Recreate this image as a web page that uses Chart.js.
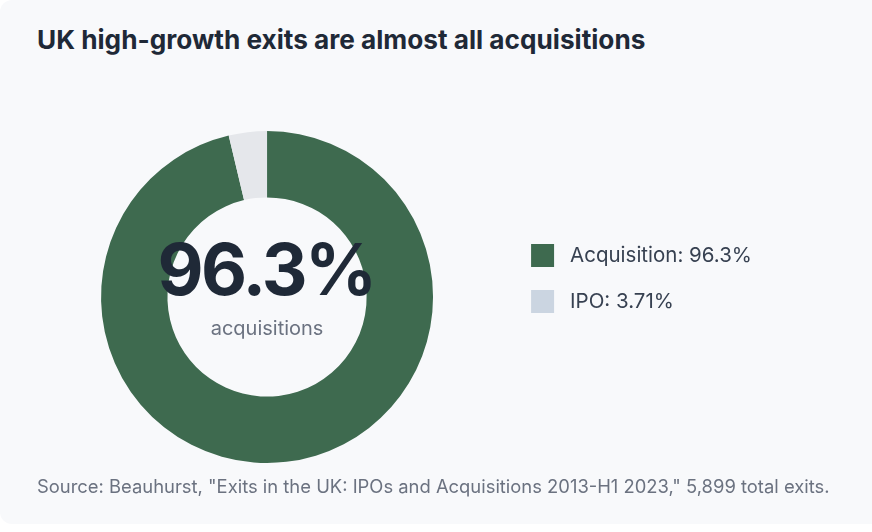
<!DOCTYPE html>
<html>
<head>
<meta charset="utf-8">
<script src="https://cdn.jsdelivr.net/npm/chart.js@4"></script>
<style>
  html, body { margin: 0; padding: 0; background: #ffffff; }
  body { width: 872px; height: 532px; position: relative; overflow: hidden; font-family: Inter, "Noto Sans", sans-serif; }
  .card { position: absolute; left: 0; top: 0; width: 900px; height: 524px; background: #f8f9fb; border-radius: 12px; }
  h1 { position: absolute; left: 37px; top: 24px; margin: 0; font-size: 26.2px; line-height: 32px; font-weight: 700; color: #1f2937; white-space: nowrap; }
  .source { position: absolute; left: 37px; top: 475px; margin: 0; font-size: 18.4px; line-height: 22px; color: #6b7280; white-space: nowrap; }
  .wrap { position: absolute; left: 0; top: 0; width: 872px; height: 532px; }
</style>
</head>
<body>
<div class="card"></div>
<h1>UK high-growth exits are almost all acquisitions</h1>
<div class="wrap"><canvas id="exits"></canvas></div>
<p class="source">Source: Beauhurst, "Exits in the UK: IPOs and Acquisitions 2013-H1 2023," 5,899 total exits.</p>
<script>
// exit routes, share of all exits (%)
const categories = ["Acquisition", "IPO"];
const shares = [96.29, 3.71];
const shareLabels = ["96.3%", "3.71%"];
const sliceColors = ["#3e6a4f", "#e5e7eb"];
const legendColors = ["#3e6a4f", "#cbd5e1"];
const centerValue = "96.3%";
const centerCaption = "acquisitions";

const centerText = {
  id: "centerText",
  afterDatasetsDraw(chart) {
    const arc = chart.getDatasetMeta(0).data[0];
    if (!arc) return;
    const { ctx } = chart;
    ctx.save();
    ctx.textAlign = "center";
    ctx.textBaseline = "alphabetic";
    ctx.fillStyle = "#1f2937";
    ctx.font = "700 71px Inter";
    ctx.letterSpacing = "-2.6px";
    ctx.fillText(centerValue, arc.x - 1, arc.y - 2);
    ctx.letterSpacing = "0px";
    ctx.fillStyle = "#6b7280";
    ctx.font = "400 20px Inter";
    ctx.fillText(centerCaption, arc.x, arc.y + 38);
    ctx.restore();
  }
};

new Chart(document.getElementById("exits"), {
  type: "doughnut",
  data: {
    labels: categories,
    datasets: [{
      data: shares,
      backgroundColor: sliceColors,
      borderWidth: 0,
      hoverOffset: 0,
      clip: false,
    }],
  },
  options: {
    responsive: true,
    maintainAspectRatio: false,
    animation: false,
    radius: 166,
    cutout: "60%",
    layout: { padding: { left: 26, right: 110, top: 221, bottom: 159 } },
    plugins: {
      tooltip: { enabled: false },
      legend: {
        position: "right",
        align: "start",
        labels: {
          boxWidth: 23,
          boxHeight: 23,
          padding: 23,
          useBorderRadius: true,
          borderRadius: 4,
          color: "#374151",
          font: { family: "Inter", size: 20.5 },
          generateLabels: (chart) => categories.map((c, i) => ({
            text: " " + c + ": " + shareLabels[i],
            fillStyle: legendColors[i],
            strokeStyle: legendColors[i],
            lineWidth: 0,
            fontColor: "#374151",
            index: i,
            hidden: false,
          })),
        },
        onClick: () => {},
      },
    },
  },
  plugins: [centerText],
});
</script>
</body>
</html>
